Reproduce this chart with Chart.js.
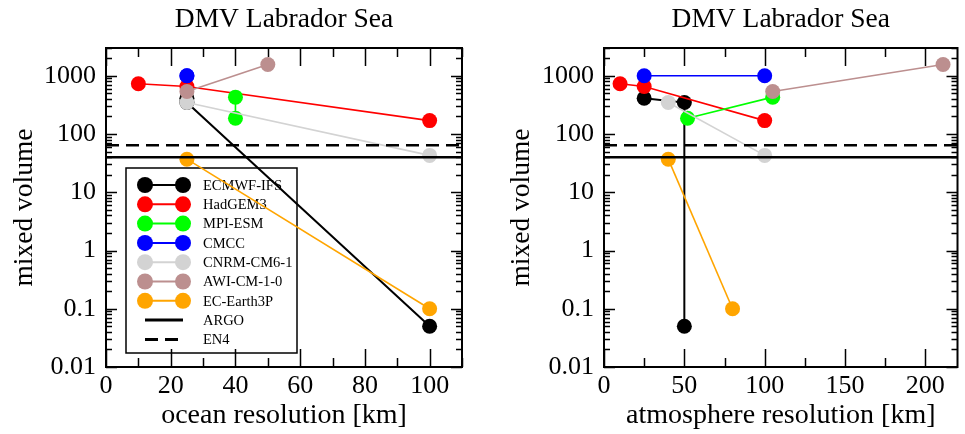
<!DOCTYPE html>
<html>
<head>
<meta charset="utf-8">
<script src="https://cdn.jsdelivr.net/npm/chart.js@4/dist/chart.umd.min.js"></script>
<style>
  body { margin: 0; background: #fff; }
  canvas { position: absolute; top: 0; }
  #oceanChart { left: 0; }
  #atmosChart { left: 482px; }
</style>
</head>
<body>
<canvas id="oceanChart" width="482" height="434"></canvas>
<canvas id="atmosChart" width="483" height="434"></canvas>
<script>
// data
const models = ['ECMWF-IFS', 'HadGEM3', 'MPI-ESM', 'CMCC', 'CNRM-CM6-1', 'AWI-CM-1-0', 'EC-Earth3P'];
const oceanRes = [[25, 25, 100], [10, 25, 100], [40, 40], [25, 25], [25, 100], [25, 50], [25, 100]];
const atmosRes = [[25, 50, 50], [10, 25, 100], [105, 52], [25, 100], [40, 100], [105, 211], [40, 80]];
const mixedVolume = [[412, 347, 0.05], [728, 655, 170], [430, 187], [1000, 1000], [347, 43], [536, 1560], [37, 0.1]];
const argoValue = 40;
const en4Value = 64;
const yTicks = [0.01, 0.1, 1, 10, 100, 1000];
const oceanTicks = [0, 20, 40, 60, 80, 100];
const atmosTicks = [0, 50, 100, 150, 200];

const modelColors = ['#000000', '#ff0000', '#00ff00', '#0000ff', '#d3d3d3', '#bc8f8f', '#ffa500'];
const serif = "'Liberation Serif', 'Times New Roman', serif";
Chart.defaults.font.family = serif;
Chart.defaults.color = '#000';

function buildDatasets(xRes, xMax) {
  const sets = models.map((name, i) => ({
    label: name,
    data: xRes[i].map((x, j) => ({ x: x, y: mixedVolume[i][j] })),
    borderColor: modelColors[i],
    backgroundColor: modelColors[i],
    borderWidth: i === 0 ? 2 : 1.6,
    pointRadius: 7.5,
    pointBorderWidth: 0,
    order: 20 - i
  }));
  sets.push({
    label: 'ARGO',
    data: [{ x: 0, y: argoValue }, { x: xMax, y: argoValue }],
    borderColor: '#000', borderWidth: 2.5, pointRadius: 0, order: 2
  });
  sets.push({
    label: 'EN4',
    data: [{ x: 0, y: en4Value }, { x: xMax, y: en4Value }],
    borderColor: '#000', borderWidth: 2.5, borderDash: [13, 7], pointRadius: 0, order: 1
  });
  return sets;
}

// inward ticks on all four sides + frame + title over the plot area
const frameTicks = {
  id: 'frameTicks',
  afterDraw(chart, args, opts) {
    const ctx = chart.ctx;
    const a = chart.chartArea;
    const xs = chart.scales.x, ys = chart.scales.y;
    ctx.save();
    ctx.strokeStyle = '#000';
    ctx.lineWidth = 1.5;
    ctx.beginPath();
    for (let v = xs.min; v <= xs.max + 1e-9; v += opts.xMinor) {
      const px = Math.round(xs.getPixelForValue(v)) + 0.5;
      const len = opts.xMajor.includes(v) ? 18 : 9;
      ctx.moveTo(px, a.bottom); ctx.lineTo(px, a.bottom - len);
      ctx.moveTo(px, a.top); ctx.lineTo(px, a.top + len);
    }
    for (let e = -2; e <= 3; e++) {
      for (let k = 1; k <= 9; k++) {
        const v = k * Math.pow(10, e);
        if (v > ys.max) break;
        const py = Math.round(ys.getPixelForValue(v)) + 0.5;
        const len = k === 1 ? 11 : 6;
        ctx.moveTo(a.left, py); ctx.lineTo(a.left + len, py);
        ctx.moveTo(a.right, py); ctx.lineTo(a.right - len, py);
      }
    }
    ctx.stroke();
    ctx.lineWidth = 2;
    ctx.strokeRect(a.left, a.top, a.right - a.left, a.bottom - a.top);

    ctx.fillStyle = '#000';
    ctx.font = '27.5px ' + serif;
    ctx.textAlign = 'center';
    ctx.textBaseline = 'middle';
    ctx.fillText(opts.title, (a.left + a.right) / 2, 20);
    ctx.restore();
  }
};

// legend drawn under the data lines, as in the original
const boxLegend = {
  id: 'boxLegend',
  beforeDatasetsDraw(chart, args, opts) {
    if (!opts.show) return;
    const ctx = chart.ctx;
    ctx.save();
    ctx.strokeStyle = '#000';
    ctx.lineWidth = 1.5;
    ctx.strokeRect(126, 168, 171, 185);
    ctx.font = '14.5px ' + serif;
    ctx.textBaseline = 'middle';
    ctx.fillStyle = '#000';
    const ds = chart.data.datasets;
    ds.forEach((d, i) => {
      const y = 185 + i * 19.3;
      ctx.strokeStyle = d.borderColor;
      ctx.lineWidth = d.label === 'ARGO' || d.label === 'EN4' ? 3 : 2;
      ctx.setLineDash(d.borderDash || []);
      ctx.beginPath();
      ctx.moveTo(145, y); ctx.lineTo(183, y);
      ctx.stroke();
      ctx.setLineDash([]);
      if (d.pointRadius) {
        ctx.fillStyle = d.backgroundColor;
        [145, 183].forEach(cx => {
          ctx.beginPath(); ctx.arc(cx, y, 8, 0, Math.PI * 2); ctx.fill();
        });
      }
      ctx.fillStyle = '#000';
      ctx.fillText(d.label, 203, y + 1);
    });
    ctx.restore();
  }
};

function makeChart(id, xRes, xMax, xTicks, xMinor, xTitle, yWidth, yTitlePad, rightPad, showLegend) {
  return new Chart(document.getElementById(id), {
    type: 'line',
    data: { datasets: buildDatasets(xRes, xMax) },
    plugins: [frameTicks, boxLegend],
    options: {
      responsive: false,
      animation: false,
      layout: { padding: { left: 0, right: rightPad, top: 48, bottom: 0 } },
      plugins: {
        legend: { display: false },
        tooltip: { enabled: false },
        title: { display: false },
        frameTicks: { xMinor: xMinor, xMajor: xTicks, title: 'DMV Labrador Sea' },
        boxLegend: { show: showLegend }
      },
      scales: {
        x: {
          type: 'linear',
          min: 0, max: xMax,
          grid: { display: false, drawTicks: false },
          border: { display: false },
          afterBuildTicks: s => { s.ticks = xTicks.map(v => ({ value: v })); },
          afterFit: s => { s.height = 67; },
          ticks: { font: { size: 26 }, padding: 4, color: '#000', callback: v => String(v), maxRotation: 0 },
          title: { display: true, text: xTitle, font: { size: 28 }, color: '#000', padding: { top: 0, bottom: 2 } }
        },
        y: {
          type: 'logarithmic',
          min: 0.01, max: 3000,
          grid: { display: false, drawTicks: false },
          border: { display: false },
          afterBuildTicks: s => { s.ticks = yTicks.map(v => ({ value: v })); },
          afterFit: s => { s.width = yWidth; },
          ticks: { font: { size: 26 }, padding: 10, color: '#000', callback: v => String(v) },
          title: { display: true, text: 'mixed volume', font: { size: 27.5 }, color: '#000', padding: { top: yTitlePad, bottom: 0 } }
        }
      }
    }
  });
}

makeChart('oceanChart', oceanRes, 110, oceanTicks, 10, 'ocean resolution [km]', 106, 8, 20, true);
makeChart('atmosChart', atmosRes, 220, atmosTicks, 25, 'atmosphere resolution [km]', 122, 23, 5, false);
</script>
</body>
</html>
